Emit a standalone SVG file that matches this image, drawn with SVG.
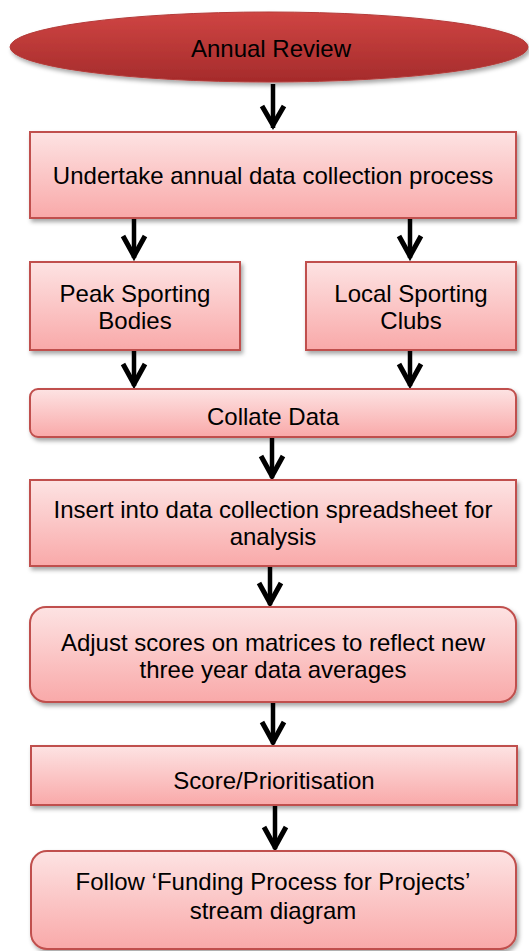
<svg xmlns="http://www.w3.org/2000/svg" width="529" height="951" viewBox="0 0 529 951">
<defs>
<linearGradient id="boxg" x1="0" y1="0" x2="0" y2="1">
<stop offset="0" stop-color="#fde3e3"/>
<stop offset="1" stop-color="#f9a9a9"/>
</linearGradient>
<linearGradient id="ellg" x1="0" y1="0" x2="0" y2="1">
<stop offset="0" stop-color="#cf4543"/>
<stop offset="1" stop-color="#a52b2b"/>
</linearGradient>
<filter id="sh" x="-5%" y="-10%" width="115%" height="130%">
<feDropShadow dx="2" dy="3" stdDeviation="2" flood-color="#000" flood-opacity="0.35"/>
</filter>
</defs>
<style>
.box{fill:url(#boxg);stroke:#c0504d;stroke-width:2;filter:url(#sh)}
.ell{fill:url(#ellg);stroke:#b33a38;stroke-width:1;filter:url(#sh)}
.t{font-family:"Liberation Sans",Arial,sans-serif;font-size:24px;fill:#000;text-anchor:middle;dominant-baseline:central}
.shaft{stroke:#000;stroke-width:4.5;fill:none}
.head{stroke:#000;stroke-width:5;fill:none;stroke-linejoin:miter;stroke-miterlimit:10}
</style>
<rect width="529" height="951" fill="#fff"/>
<g id="connectors">
<line class="shaft" x1="273" y1="84" x2="273" y2="128"/><path class="head" d="M262,106 L273,125 L284,106"/>
<line class="shaft" x1="134" y1="219" x2="134" y2="258"/><path class="head" d="M123,236 L134,256 L145,236"/>
<line class="shaft" x1="410" y1="219" x2="410" y2="258"/><path class="head" d="M399,236 L410,256 L421,236"/>
<line class="shaft" x1="134" y1="350" x2="134" y2="386"/><path class="head" d="M123,364 L134,384 L145,364"/>
<line class="shaft" x1="410" y1="350" x2="410" y2="386"/><path class="head" d="M399,364 L410,384 L421,364"/>
<line class="shaft" x1="272" y1="437" x2="272" y2="478"/><path class="head" d="M261,456 L272,476 L283,456"/>
<line class="shaft" x1="270" y1="566" x2="270" y2="605"/><path class="head" d="M259,583 L270,603 L281,583"/>
<line class="shaft" x1="273" y1="702" x2="273" y2="744"/><path class="head" d="M262,722 L273,742 L284,722"/>
<line class="shaft" x1="275" y1="805" x2="275" y2="849"/><path class="head" d="M264,827 L275,847 L286,827"/>
</g>
<g id="n-annual-review">
<ellipse class="ell" cx="269" cy="47" rx="259" ry="35"/>
<text class="t" x="271" y="48">Annual Review</text>
</g>
<g id="n-undertake">
<rect class="box" x="30" y="132" width="486" height="86"/>
<text class="t" x="273" y="175">Undertake annual data collection process</text>
</g>
<g id="n-peak">
<rect class="box" x="30" y="262" width="210" height="88"/>
<text class="t" x="135" y="293">Peak Sporting</text>
<text class="t" x="135" y="320">Bodies</text>
</g>
<g id="n-local">
<rect class="box" x="306" y="262" width="210" height="88"/>
<text class="t" x="411" y="293">Local Sporting</text>
<text class="t" x="411" y="320">Clubs</text>
</g>
<g id="n-collate">
<rect class="box" x="30" y="389" width="486" height="48" rx="8"/>
<text class="t" x="273" y="416">Collate Data</text>
</g>
<g id="n-insert">
<rect class="box" x="30" y="480" width="486" height="86"/>
<text class="t" x="273" y="509">Insert into data collection spreadsheet for</text>
<text class="t" x="273" y="536">analysis</text>
</g>
<g id="n-adjust">
<rect class="box" x="30" y="607" width="486" height="95" rx="16"/>
<text class="t" x="273" y="642">Adjust scores on matrices to reflect new</text>
<text class="t" x="273" y="669">three year data averages</text>
</g>
<g id="n-score">
<rect class="box" x="31" y="746" width="486" height="59"/>
<text class="t" x="274" y="780">Score/Prioritisation</text>
</g>
<g id="n-follow">
<rect class="box" x="31" y="851" width="485" height="98" rx="16"/>
<text class="t" x="273" y="881">Follow ‘Funding Process for Projects’</text>
<text class="t" x="273" y="910">stream diagram</text>
</g>
</svg>
